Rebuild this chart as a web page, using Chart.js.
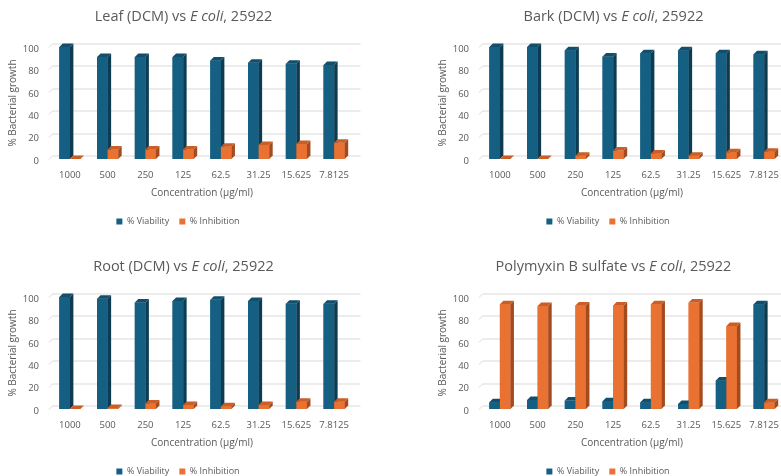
<!DOCTYPE html>
<html>
<head>
<meta charset="utf-8">
<script src="https://cdn.jsdelivr.net/npm/chart.js@4"></script>
<style>
  html, body { margin: 0; padding: 0; background: #fff; overflow: hidden; }
  body { width: 781px; height: 476px; position: relative; }
  .panel { position: absolute; width: 367px; height: 240px; }
</style>
</head>
<body>
<div class="panel" style="left:0;top:0"><canvas id="leaf-chart" width="367" height="240"></canvas></div>
<div class="panel" style="left:430px;top:0"><canvas id="bark-chart" width="367" height="240"></canvas></div>
<div class="panel" style="left:0;top:250px"><canvas id="root-chart" width="367" height="240"></canvas></div>
<div class="panel" style="left:430px;top:250px"><canvas id="polymyxin-chart" width="367" height="240"></canvas></div>
<script>
const concentrations = ['1000', '500', '250', '125', '62.5', '31.25', '15.625', '7.8125'];
const leafViability = [100, 91, 91, 91, 88, 86, 85, 84];
const leafInhibition = [0, 8.5, 8.5, 8.5, 11, 12.5, 13.5, 14.5];
const barkViability = [100, 100, 97, 91.5, 94.5, 97, 94.5, 93.5];
const barkInhibition = [0, 0, 3, 7.5, 5, 3, 6, 6.5];
const rootViability = [100, 98.5, 95, 96.5, 97.5, 96.5, 94, 94];
const rootInhibition = [0, 1, 5, 3.5, 2.5, 3.5, 6.5, 6.5];
const polymyxinViability = [6, 8, 7.5, 7, 6, 4.5, 25.5, 93.5];
const polymyxinInhibition = [93.5, 92, 92.5, 92.5, 93.5, 95, 74, 6];
const yTickValues = [0, 20, 40, 60, 80, 100];

const TEXT = '#595959';
const FONT = '"Open Sans", "Liberation Sans", sans-serif';
const DX = 3.5;
const DY = 3.5;

// back wall grid lines, pushed up/right like the 3D excel chart
const wallGrid = {
  id: 'wallGrid',
  beforeDatasetsDraw(chart) {
    const { ctx, chartArea, scales } = chart;
    ctx.save();
    ctx.strokeStyle = '#d9d9d9';
    ctx.lineWidth = 1;
    scales.y.ticks.forEach((tick) => {
      const yf = Math.round(scales.y.getPixelForValue(tick.value)) + 0.5;
      ctx.beginPath();
      ctx.moveTo(chartArea.left - 2, yf);
      ctx.lineTo(chartArea.left - 2 + DX, yf - DY);
      ctx.lineTo(chartArea.right + DX + 4, yf - DY);
      ctx.stroke();
    });
    ctx.restore();
  }
};

// front, side and top faces of every bar
const barDepth = {
  id: 'barDepth',
  afterDatasetsDraw(chart) {
    const { ctx } = chart;
    ctx.save();
    chart.data.datasets.forEach((ds, i) => {
      const meta = chart.getDatasetMeta(i);
      meta.data.forEach((bar) => {
        const { x, y, base, width } = bar.getProps(['x', 'y', 'base', 'width'], true);
        const left = x - width / 2;
        const right = x + width / 2;
        ctx.fillStyle = ds.backgroundColor;
        ctx.fillRect(left, y, width, base - y);
        ctx.fillStyle = ds.sideColor;
        ctx.beginPath();
        ctx.moveTo(right, base);
        ctx.lineTo(right + DX, base - DY);
        ctx.lineTo(right + DX, y - DY);
        ctx.lineTo(right, y);
        ctx.closePath();
        ctx.fill();
        ctx.fillStyle = ds.topColor;
        ctx.beginPath();
        ctx.moveTo(left, y);
        ctx.lineTo(left + DX, y - DY);
        ctx.lineTo(right + DX, y - DY);
        ctx.lineTo(right, y);
        ctx.closePath();
        ctx.fill();
      });
    });
    ctx.restore();
  }
};

// title with the italic part
const mixedTitle = {
  id: 'mixedTitle',
  afterDraw(chart, args, opts) {
    const { ctx } = chart;
    const parts = opts.parts || [];
    ctx.save();
    ctx.fillStyle = TEXT;
    ctx.textBaseline = 'middle';
    let total = 0;
    parts.forEach((p) => {
      ctx.font = `${p.italic ? 'italic ' : ''}14.5px ${FONT}`;
      total += ctx.measureText(p.text).width;
    });
    let xPos = chart.width / 2 - total / 2;
    parts.forEach((p) => {
      ctx.font = `${p.italic ? 'italic ' : ''}14.5px ${FONT}`;
      ctx.fillText(p.text, xPos, 17);
      xPos += ctx.measureText(p.text).width;
    });
    ctx.restore();
  }
};

function buildChart(canvasId, titleStart, viability, inhibition) {
  const canvas = document.getElementById(canvasId);
  const config = {
    type: 'bar',
    data: {
      labels: concentrations,
      datasets: [
        {
          label: '% Viability',
          data: viability,
          backgroundColor: '#156082',
          sideColor: '#0d3c52',
          topColor: '#114f6c'
        },
        {
          label: '% Inhibition',
          data: inhibition,
          backgroundColor: '#e97132',
          sideColor: '#a34b1f',
          topColor: '#c95e27'
        }
      ]
    },
    options: {
      responsive: false,
      animation: false,
      categoryPercentage: 0.56,
      barPercentage: 1,
      layout: { padding: { top: 47, right: 14, left: 3, bottom: 4 } },
      scales: {
        x: {
          grid: { display: false, drawTicks: false },
          border: { display: false },
          afterFit: (axis) => {
            axis.height = 48;
          },
          ticks: { color: TEXT, font: { family: FONT, size: 9.5 }, padding: 11, maxRotation: 0 },
          title: { display: true, text: 'Concentration (µg/ml)', color: TEXT, font: { family: FONT, size: 10 }, padding: { top: 0, bottom: 8 } }
        },
        y: {
          min: 0,
          max: 100,
          grid: { display: false, drawTicks: false },
          border: { display: false },
          afterBuildTicks: (axis) => {
            axis.ticks = yTickValues.map((v) => ({ value: v }));
          },
          afterFit: (axis) => {
            axis.width = 48;
          },
          ticks: { color: TEXT, font: { family: FONT, size: 9.5 }, padding: 12, labelOffset: 2 },
          title: { display: true, text: '% Bacterial growth', color: TEXT, font: { family: FONT, size: 10 } }
        }
      },
      plugins: {
        legend: {
          position: 'bottom',
          labels: { color: TEXT, font: { family: FONT, size: 9 }, boxWidth: 6, boxHeight: 6, padding: 10 }
        },
        tooltip: { enabled: false },
        mixedTitle: {
          parts: [{ text: titleStart }, { text: 'E coli', italic: true }, { text: ', 25922' }]
        }
      }
    },
    plugins: [wallGrid, barDepth, mixedTitle]
  };
  return new Chart(canvas, config);
}

buildChart('leaf-chart', 'Leaf (DCM) vs ', leafViability, leafInhibition);
buildChart('bark-chart', 'Bark (DCM) vs ', barkViability, barkInhibition);
buildChart('root-chart', 'Root (DCM) vs ', rootViability, rootInhibition);
buildChart('polymyxin-chart', 'Polymyxin B sulfate vs ', polymyxinViability, polymyxinInhibition);
</script>
</body>
</html>
